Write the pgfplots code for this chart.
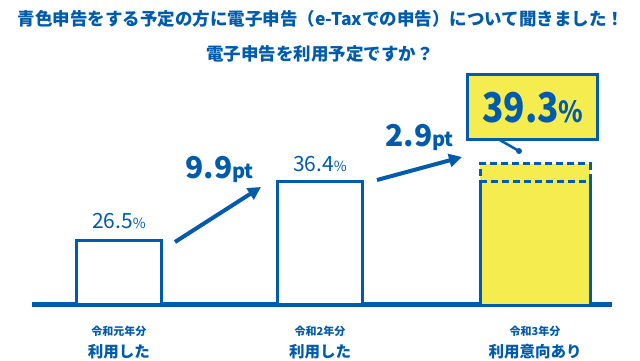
\documentclass[border=0pt]{standalone}
\usepackage{pgfplots}
\pgfplotsset{compat=1.18}
\usepackage{fontspec}
\setmainfont{Noto Sans CJK JP}
\usetikzlibrary{arrows.meta}
\definecolor{myblue}{HTML}{005BAC}
\definecolor{myyellow}{HTML}{F5EC50}
\begin{document}
\begin{tikzpicture}[x=1pt,y=1pt]
\path[use as bounding box] (0,0) rectangle (640,360);
\node[text=myblue, font=\bfseries\fontsize{17.5}{17.5}\selectfont] at (321,341) {青色申告をする予定の方に電子申告（e-Taxでの申告）について聞きました！};
\node[text=myblue, font=\bfseries\fontsize{17.5}{17.5}\selectfont] at (320,306.5) {電子申告を利用予定ですか？};
\begin{axis}[
  at={(32pt,56pt)}, anchor=south west,
  scale only axis, width=580pt, height=238.4pt,
  xmin=-0.4328, xmax=2.4527, ymin=15.8, ymax=55.8,
  axis x line=bottom, axis y line=none,
  axis line style={myblue, line width=5pt, -},
  xtick={0,1,2.07}, major tick length=0pt,
  xticklabels={
    {{\fontsize{11}{11}\selectfont 令和元年分}\\[6pt]{\fontsize{15.5}{15.5}\selectfont 利用した}},
    {{\fontsize{11}{11}\selectfont 令和2年分}\\[6pt]{\fontsize{15.5}{15.5}\selectfont 利用した}},
    {{\fontsize{11}{11}\selectfont 令和3年分}\\[6pt]{\fontsize{15.5}{15.5}\selectfont 利用意向あり}}},
  xticklabel style={align=center, text=myblue, font=\bfseries, yshift=-19pt},
  ytick=\empty,
  clip=false,
]
\addplot[ybar, bar shift=0pt, bar width=85pt, fill=white, draw=myblue, line width=3pt] coordinates {(0,26.5) (1,36.4)};
\addplot[ybar, bar shift=0pt, bar width=110pt, fill=myyellow, draw=none] coordinates {(2.07,36.4)};
\addplot[myblue, line width=3pt] coordinates {(1.7964,15.8) (1.7964,36.4)};
\addplot[myblue, line width=3pt] coordinates {(2.3436,15.8) (2.3436,36.4)};
\addplot[fill=myyellow, draw=myblue, line width=3pt, dash pattern=on 7pt off 4pt] coordinates {(1.7964,36.4) (2.3436,36.4) (2.3436,39.3) (1.7964,39.3) (1.7964,36.4)};
\node[anchor=base, yshift=12pt, text=myblue, font=\fontsize{21}{21}\selectfont] at (axis cs:0,26.5) {26.5{\fontsize{14}{14}\selectfont\%}};
\node[anchor=base, yshift=10pt, text=myblue, font=\fontsize{21}{21}\selectfont] at (axis cs:1,36.4) {36.4{\fontsize{14}{14}\selectfont\%}};
\end{axis}
\draw[myblue, line width=4pt, -{Triangle[length=13pt,width=13pt]}] (175,118) -- (261,173);
\draw[myblue, line width=4pt, -{Triangle[length=13pt,width=13pt]}] (377,180) -- (462,203);
\node[anchor=base west, inner sep=0pt, text=myblue] at (185,182) {\fontsize{30}{30}\selectfont\bfseries 9.9\fontsize{20}{20}\selectfont pt};
\node[anchor=base west, inner sep=0pt, text=myblue] at (385,214) {\fontsize{30}{30}\selectfont\bfseries 2.9\fontsize{20}{20}\selectfont pt};
\draw[myblue, line width=2.5pt] (498,221) -- (519,209);
\fill[myblue] (519,209) circle (3);
\draw[myblue, line width=3pt, fill=myyellow] (467,221) rectangle (597,286);
\node[anchor=base west, inner sep=0pt, text=myblue, xscale=0.86] at (482,238) {\fontsize{41}{41}\selectfont\bfseries 39.3\fontsize{29}{29}\selectfont\%};
\end{tikzpicture}
\end{document}
